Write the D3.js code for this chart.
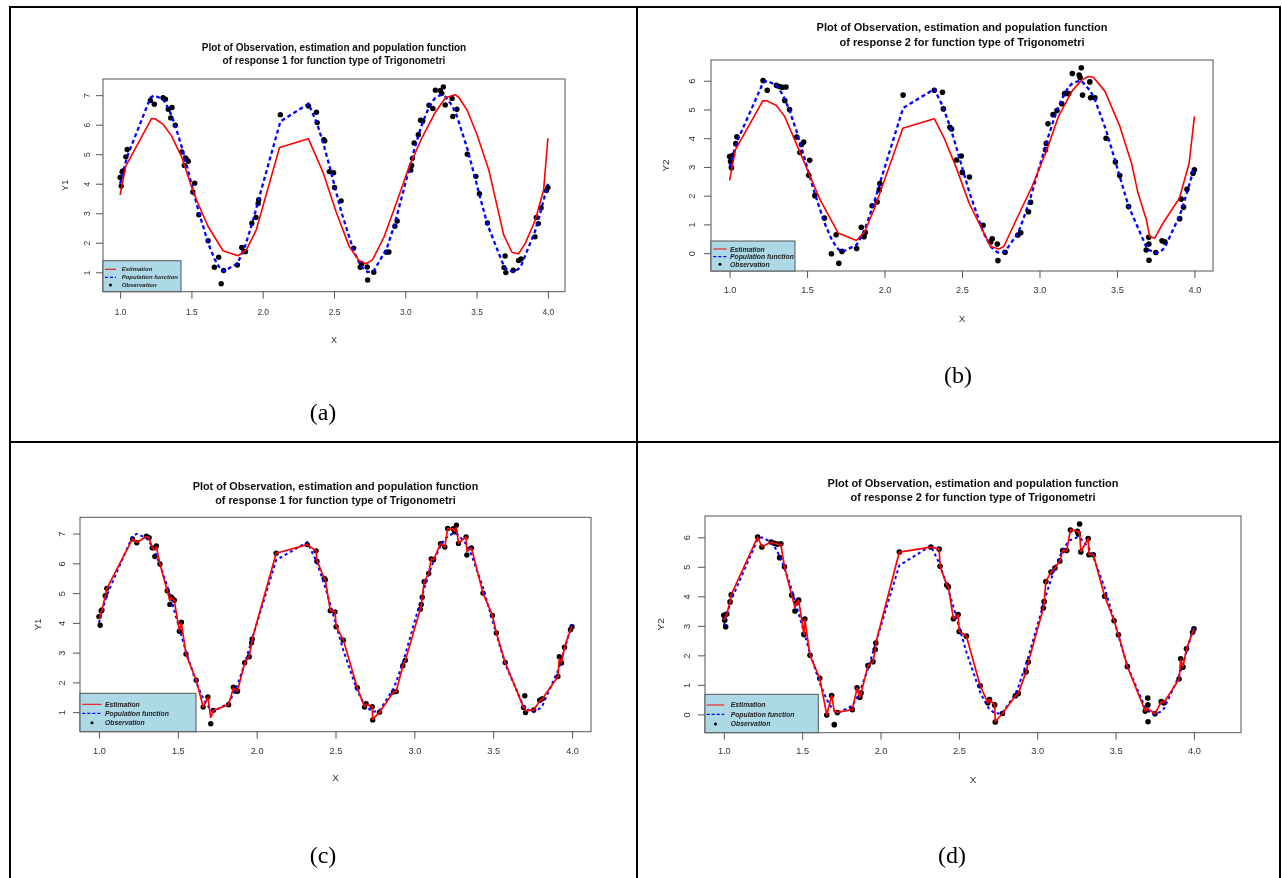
<!DOCTYPE html>
<html>
<head>
<meta charset="utf-8">
<script src="https://cdn.jsdelivr.net/npm/d3@7"></script>
<style>
  body { margin: 0; background: #fff; }
  svg { display: block; }
  text { font-family: "Liberation Sans", Arial, sans-serif; }
</style>
</head>
<body>
<svg id="fig" width="1282" height="878"></svg>
<script>
// ---------------- data ----------------
const xTicks = [1.0, 1.5, 2.0, 2.5, 3.0, 3.5, 4.0];
const yTicks1 = [1, 2, 3, 4, 5, 6, 7];
const yTicks2 = [0, 1, 2, 3, 4, 5, 6];

const titleLine1 = "Plot of Observation, estimation and population function";
const titleResp1 = "of response 1 for function type of Trigonometri";
const titleResp2 = "of response 2 for function type of Trigonometri";
const legendLabels = ["Estimation", "Population function", "Observation"];
const captions = ["(a)", "(b)", "(c)", "(d)"];

// response 1: observations, population function, fine estimate
const resp1X = [1.000,1.008,1.014,1.019,1.040,1.050,1.213,1.240,1.301,1.318,
  1.338,1.355,1.364,1.387,1.433,1.450,1.458,1.466,1.478,1.510,
  1.523,1.552,1.617,1.661,1.691,1.709,1.726,1.822,1.853,1.869,
  1.879,1.924,1.953,1.968,1.972,2.124,2.321,2.377,2.382,2.429,
  2.435,2.467,2.497,2.504,2.550,2.638,2.684,2.694,2.733,2.736,
  2.779,2.868,2.885,2.927,2.943,3.038,3.044,3.050,3.062,3.091,
  3.107,3.122,3.166,3.193,3.211,3.246,3.256,3.267,3.280,3.328,
  3.333,3.362,3.435,3.495,3.520,3.576,3.692,3.700,3.705,3.757,
  3.795,3.812,3.910,3.919,3.933,3.952,3.990,4.000];
const resp1Obs = [4.21,3.92,4.40,4.43,4.91,5.16,6.82,6.69,6.91,6.86,
  6.52,6.23,6.58,5.98,5.08,4.62,4.87,4.82,4.76,3.72,
  4.02,2.95,2.07,1.17,1.51,0.61,1.06,1.25,1.84,1.71,
  1.70,2.66,2.86,3.33,3.46,6.34,6.63,6.42,6.07,5.49,
  5.45,4.41,4.37,3.87,3.42,1.82,1.17,1.28,1.18,0.74,
  1.00,1.68,1.69,2.56,2.74,4.46,4.62,4.86,5.38,5.66,
  6.15,6.12,6.66,6.55,7.17,7.16,7.06,7.28,6.67,6.89,
  6.28,6.52,5.00,4.25,3.66,2.67,1.16,1.55,0.99,1.07,
  1.40,1.45,2.20,2.86,2.65,3.18,3.77,3.87];
const resp1Pop = [4.00,4.15,4.26,4.36,4.75,4.93,6.92,6.99,6.85,6.73,
  6.55,6.37,6.26,5.96,5.23,4.93,4.78,4.64,4.41,3.81,
  3.57,3.04,1.99,1.46,1.20,1.10,1.03,1.30,1.61,1.80,
  1.93,2.62,3.13,3.40,3.48,6.11,6.71,6.09,6.03,5.29,
  5.19,4.62,4.06,3.92,3.07,1.72,1.25,1.18,1.02,1.01,
  1.05,1.79,2.02,2.67,2.95,4.71,4.82,4.93,5.14,5.62,
  5.87,6.08,6.59,6.81,6.91,7.00,7.00,6.98,6.95,6.65,
  6.60,6.29,5.19,4.09,3.62,2.62,1.20,1.15,1.12,1.00,
  1.12,1.22,2.39,2.54,2.77,3.11,3.81,4.00];
const resp1EstFine = [4.12,4.22,4.38,4.43,4.90,5.15,6.82,6.70,6.90,6.85,
  6.52,6.45,6.56,5.98,5.08,4.75,4.85,4.82,4.74,3.74,
  3.98,2.95,2.07,1.18,1.50,0.82,1.06,1.25,1.82,1.72,
  1.72,2.65,2.88,3.32,3.46,6.34,6.63,6.42,6.10,5.49,
  5.45,4.42,4.37,3.88,3.42,1.82,1.18,1.27,1.18,0.76,
  1.00,1.68,1.70,2.56,2.74,4.47,4.62,4.86,5.38,5.66,
  6.15,6.12,6.66,6.55,7.17,7.16,7.08,7.20,6.68,6.89,
  6.40,6.52,5.00,4.25,3.66,2.67,1.16,1.12,1.05,1.07,
  1.38,1.45,2.20,2.80,2.66,3.18,3.77,3.87];
// response 1: smooth estimate
const resp1SmoothX = [1.000,1.040,1.221,1.245,1.300,1.360,1.431,1.489,1.536,1.617,
  1.722,1.827,1.885,1.955,2.118,2.321,2.421,2.514,2.607,2.677,
  2.724,2.770,2.852,2.945,3.027,3.120,3.213,3.283,3.353,3.376,
  3.434,3.504,3.586,3.690,3.749,3.795,3.842,3.912,3.970,4.000];
const resp1SmoothY = [3.62,4.60,6.21,6.20,6.02,5.62,4.92,4.07,3.45,2.55,
  1.73,1.56,1.76,2.44,5.23,5.52,4.41,3.06,1.87,1.39,
  1.29,1.42,2.21,3.45,4.58,5.59,6.44,6.92,7.01,6.92,
  6.49,5.65,4.46,2.27,1.67,1.63,1.99,2.77,3.79,5.54];

// response 2: observations, population function, fine estimate
const resp2X = [1.000,1.006,1.012,1.019,1.040,1.047,1.216,1.243,1.302,1.323,
  1.341,1.356,1.364,1.387,1.433,1.454,1.464,1.478,1.511,1.517,
  1.550,1.612,1.657,1.688,1.705,1.725,1.820,1.850,1.868,1.876,
  1.920,1.952,1.966,1.970,2.120,2.321,2.374,2.380,2.422,2.433,
  2.465,2.495,2.502,2.548,2.636,2.685,2.695,2.728,2.732,2.778,
  2.861,2.879,2.929,2.943,3.039,3.044,3.055,3.088,3.113,3.144,
  3.162,3.188,3.212,3.256,3.262,3.270,3.278,3.325,3.330,3.358,
  3.430,3.490,3.518,3.575,3.689,3.705,3.706,3.707,3.751,3.791,
  3.809,3.905,3.915,3.930,3.952,3.991,4.000];
const resp2Obs = [3.36,3.19,2.97,3.40,3.81,4.05,6.01,5.67,5.84,5.80,
  5.77,5.31,5.78,5.00,4.04,3.50,3.78,3.87,2.71,3.23,
  2.00,1.22,-0.02,0.64,-0.35,0.06,0.16,0.90,0.57,0.72,
  1.65,1.78,2.20,2.42,5.50,5.67,5.60,5.02,4.38,4.32,
  3.24,3.38,2.81,2.65,0.97,0.39,0.50,0.32,-0.26,0.03,
  0.63,0.71,1.44,1.77,3.60,3.82,4.50,4.82,4.96,5.20,
  5.55,5.55,6.25,6.20,6.11,6.45,5.50,5.96,5.41,5.41,
  4.00,3.17,2.70,1.62,0.11,0.55,0.32,-0.25,0.02,0.43,
  0.39,1.20,1.88,1.60,2.22,2.78,2.90];
const resp2Pop = [3.00,3.11,3.23,3.36,3.75,3.87,5.93,6.00,5.84,5.69,
  5.52,5.36,5.26,4.96,4.23,3.86,3.67,3.41,2.79,2.68,
  2.07,1.06,0.50,0.22,0.12,0.04,0.29,0.57,0.79,0.89,
  1.55,2.11,2.36,2.44,5.05,5.71,5.13,5.05,4.41,4.23,
  3.65,3.09,2.96,2.11,0.74,0.24,0.18,0.03,0.02,0.05,
  0.70,0.93,1.71,1.95,3.73,3.82,4.02,4.58,4.96,5.36,
  5.55,5.78,5.91,6.00,5.99,5.98,5.95,5.67,5.63,5.34,
  4.28,3.19,2.66,1.64,0.22,0.12,0.11,0.11,0.00,0.10,
  0.20,1.31,1.47,1.72,2.11,2.83,3.00];
const resp2EstFine = [3.20,3.25,3.30,3.40,3.81,4.05,6.01,5.68,5.84,5.80,
  5.77,5.76,5.76,5.00,4.04,3.62,3.78,3.86,2.72,3.22,
  2.00,1.22,-0.02,0.64,0.10,0.07,0.16,0.88,0.58,0.72,
  1.65,1.78,2.20,2.42,5.50,5.67,5.60,5.02,4.38,4.32,
  3.24,3.37,2.82,2.65,0.97,0.39,0.50,0.32,-0.25,0.03,
  0.63,0.71,1.44,1.77,3.60,3.82,4.50,4.82,4.96,5.20,
  5.55,5.55,6.25,6.22,6.15,6.20,5.52,5.96,5.42,5.41,
  4.00,3.17,2.70,1.62,0.11,0.20,0.20,0.18,0.02,0.42,
  0.40,1.20,1.85,1.62,2.22,2.78,2.90];
// response 2: smooth estimate
const resp2SmoothX = [1.000,1.038,1.214,1.242,1.302,1.355,1.434,1.520,1.584,1.701,
  1.819,1.872,1.936,2.118,2.321,2.385,2.460,2.546,2.631,2.685,
  2.738,2.770,2.845,2.952,3.048,3.123,3.209,3.273,3.316,3.348,
  3.423,3.519,3.594,3.636,3.690,3.711,3.744,3.797,3.903,3.966,
  4.000];
const resp2SmoothY = [2.53,3.60,5.30,5.30,5.14,4.76,3.77,2.67,1.86,0.70,
  0.44,0.75,1.57,4.35,4.68,4.00,3.02,1.74,0.81,0.23,
  0.14,0.23,1.10,2.32,3.60,4.76,5.63,6.03,6.15,6.12,
  5.63,4.41,3.13,2.09,1.16,0.58,0.52,1.04,1.91,3.13,
  4.76];

// ---------------- panel layout ----------------
const panels = [
  { id: "a", x: resp1X, obs: resp1Obs, pop: resp1Pop, estX: resp1SmoothX, estY: resp1SmoothY,
    yTicks: yTicks1, yLab: "Y1", sub: titleResp1,
    box: { l: 103, t: 79, r: 565, b: 291.7 }, xMax: 4.12,
    titleY: [47, 60], titleSize: 10, tickSize: 8.4, tickOff: 20, xLabOff: 48, yTickOff: 16, yLabOff: 38,
    r: 2.7, popW: 2.3, dash: "4,3", estW: 1.6,
    leg: { w: 78, h: 31, rows: [8.6, 16.6, 24.3], l1: 2, l2: 13, tx: 18.7, size: 6.0, weight: "bold" } },
  { id: "b", x: resp2X, obs: resp2Obs, pop: resp2Pop, estX: resp2SmoothX, estY: resp2SmoothY,
    yTicks: yTicks2, yLab: "Y2", sub: titleResp2,
    box: { l: 711, t: 60, r: 1213, b: 271 }, xMax: 4.12,
    titleY: [27, 42], titleSize: 11, tickSize: 9.2, tickOff: 19, xLabOff: 47, yTickOff: 19, yLabOff: 46,
    r: 2.8, popW: 2.3, dash: "4,3", estW: 1.6,
    leg: { w: 84, h: 30, rows: [8, 15.7, 23.3], l1: 2.3, l2: 15.7, tx: 19, size: 6.8, weight: "bold" } },
  { id: "c", x: resp1X, obs: resp1Obs, pop: resp1Pop, estX: resp1X, estY: resp1EstFine,
    yTicks: yTicks1, yLab: "Y1", sub: titleResp1,
    box: { l: 80, t: 517.3, r: 591, b: 731.7 }, xMax: 4.12,
    titleY: [485.5, 499.5], titleSize: 10.8, tickSize: 9.2, tickOff: 19, xLabOff: 46, yTickOff: 18, yLabOff: 43,
    r: 2.7, popW: 2.0, dash: "3,3", estW: 1.7,
    leg: { w: 116, h: 38.4, rows: [11, 20, 29.4], l1: 2.3, l2: 21.7, tx: 25, size: 6.8, weight: "bold" } },
  { id: "d", x: resp2X, obs: resp2Obs, pop: resp2Pop, estX: resp2X, estY: resp2EstFine,
    yTicks: yTicks2, yLab: "Y2", sub: titleResp2,
    box: { l: 705, t: 516, r: 1241, b: 732.7 }, xMax: 4.30,
    titleY: [483, 497], titleSize: 11, tickSize: 9.2, tickOff: 18, xLabOff: 47, yTickOff: 18, yLabOff: 45,
    r: 2.8, popW: 2.0, dash: "3,3", estW: 1.7,
    leg: { w: 113.3, h: 38.4, rows: [10.7, 20, 29.7], l1: 1.7, l2: 19.3, tx: 25.7, size: 6.8, weight: "bold" } }
];

const captionPos = [[323, 412], [958, 375], [323, 855], [952, 855]];

// ---------------- drawing ----------------
const svg = d3.select("#fig");
svg.append("rect").attr("width", 1282).attr("height", 878).attr("fill", "#fff");
const defs = svg.append("defs");
defs.append("filter").attr("id", "soft")
  .attr("x", "-5%").attr("y", "-5%").attr("width", "110%").attr("height", "110%")
  .append("feGaussianBlur").attr("stdDeviation", 0.35);

const RED = "#ff0000", BLUE = "#0000ff", INK = "#333", EDGE = "#555";

function drawPanel(p) {
  const { l, t, r, b } = p.box;
  const g = svg.append("g").attr("filter", "url(#soft)");

  const x = d3.scaleLinear().domain([0.88, p.xMax]).range([l, r]);
  const [lo, hi] = d3.extent(p.obs);
  const pad = (hi - lo) * 0.04;
  const y = d3.scaleLinear().domain([lo - pad, hi + pad]).range([b, t]);

  defs.append("clipPath").attr("id", "clip-" + p.id)
    .append("rect").attr("x", l).attr("y", t).attr("width", r - l).attr("height", b - t);
  const plot = g.append("g").attr("clip-path", `url(#clip-${p.id})`);

  // observations
  plot.append("g").selectAll("circle")
    .data(d3.zip(p.x, p.obs))
    .join("circle")
    .attr("cx", d => x(d[0])).attr("cy", d => y(d[1]))
    .attr("r", p.r).attr("fill", "#000");

  const line = d3.line().x(d => x(d[0])).y(d => y(d[1]));

  // population function (dashed blue)
  plot.append("path")
    .attr("d", line(d3.zip(p.x, p.pop)))
    .attr("fill", "none").attr("stroke", BLUE)
    .attr("stroke-width", p.popW).attr("stroke-dasharray", p.dash);

  // estimation (solid red)
  plot.append("path")
    .attr("d", line(d3.zip(p.estX, p.estY)))
    .attr("fill", "none").attr("stroke", RED)
    .attr("stroke-width", p.estW).attr("stroke-linejoin", "round");

  // plot box
  g.append("rect").attr("x", l).attr("y", t).attr("width", r - l).attr("height", b - t)
    .attr("fill", "none").attr("stroke", EDGE).attr("stroke-width", 1);

  // x axis
  const xa = g.append("g").attr("transform", `translate(0,${b})`)
    .call(d3.axisBottom(x).tickValues(xTicks).tickSize(7).tickSizeOuter(0).tickFormat(d3.format(".1f")));
  xa.select(".domain").remove();
  xa.selectAll(".tick line").attr("stroke", EDGE);
  xa.selectAll(".tick text")
    .attr("y", p.tickOff).attr("dy", "0.35em")
    .attr("fill", INK).style("font-size", p.tickSize + "px")
    .style("font-family", '"Liberation Sans", Arial, sans-serif');

  // y axis
  const ya = g.append("g").attr("transform", `translate(${l},0)`)
    .call(d3.axisLeft(y).tickValues(p.yTicks).tickSize(7).tickSizeOuter(0).tickFormat(d3.format("d")));
  ya.select(".domain").remove();
  ya.selectAll(".tick line").attr("stroke", EDGE);
  ya.selectAll(".tick text")
    .attr("x", null).attr("dy", null)
    .attr("text-anchor", "middle").attr("dominant-baseline", "central")
    .attr("transform", `translate(${-p.yTickOff},0) rotate(-90)`)
    .attr("fill", INK).style("font-size", p.tickSize + "px")
    .style("font-family", '"Liberation Sans", Arial, sans-serif');

  // axis titles
  const cx = (l + r) / 2, cy = (t + b) / 2;
  g.append("text").attr("x", cx).attr("y", b + p.xLabOff)
    .attr("text-anchor", "middle").attr("dominant-baseline", "central")
    .attr("fill", INK).style("font-size", (p.tickSize * 1.08) + "px").text("X");
  g.append("text")
    .attr("transform", `translate(${l - p.yLabOff},${cy}) rotate(-90)`)
    .attr("text-anchor", "middle").attr("dominant-baseline", "central")
    .attr("fill", INK).style("font-size", (p.tickSize * 1.08) + "px").text(p.yLab);

  // title
  [titleLine1, p.sub].forEach((s, i) => {
    g.append("text").attr("x", cx).attr("y", p.titleY[i])
      .attr("text-anchor", "middle").attr("dominant-baseline", "central")
      .attr("fill", "#111").style("font-weight", "bold")
      .style("font-size", p.titleSize + "px").text(s);
  });

  // legend, bottom-left inside the box
  const L = p.leg;
  const lg = g.append("g").attr("transform", `translate(${l},${b - L.h})`);
  lg.append("rect").attr("width", L.w).attr("height", L.h)
    .attr("fill", "#add8e6").attr("stroke", EDGE).attr("stroke-width", 1);
  legendLabels.forEach((lab, i) => {
    const ry = L.rows[i];
    if (i === 0) {
      lg.append("line").attr("x1", L.l1).attr("x2", L.l2).attr("y1", ry).attr("y2", ry)
        .attr("stroke", RED).attr("stroke-width", 1);
    } else if (i === 1) {
      lg.append("line").attr("x1", L.l1).attr("x2", L.l2).attr("y1", ry).attr("y2", ry)
        .attr("stroke", BLUE).attr("stroke-width", 1.2).attr("stroke-dasharray", "3,2");
    } else {
      lg.append("circle").attr("cx", (L.l1 + L.l2) / 2).attr("cy", ry).attr("r", 1.5).attr("fill", "#000");
    }
    lg.append("text").attr("x", L.tx).attr("y", ry)
      .attr("dominant-baseline", "central")
      .attr("fill", "#222").style("font-style", "italic").style("font-weight", L.weight)
      .style("font-size", L.size + "px").text(lab);
  });
}

panels.forEach(drawPanel);

// table frame around the four panels
const frame = svg.append("g").attr("stroke", "#000").attr("stroke-width", 2).attr("fill", "none");
frame.append("line").attr("x1", 10).attr("x2", 1281).attr("y1", 7).attr("y2", 7);
frame.append("line").attr("x1", 10).attr("x2", 10).attr("y1", 6).attr("y2", 878);
frame.append("line").attr("x1", 637).attr("x2", 637).attr("y1", 6).attr("y2", 878);
frame.append("line").attr("x1", 1280).attr("x2", 1280).attr("y1", 6).attr("y2", 878);
frame.append("line").attr("x1", 10).attr("x2", 1281).attr("y1", 442).attr("y2", 442);

// panel captions
captions.forEach((c, i) => {
  svg.append("text").attr("x", captionPos[i][0]).attr("y", captionPos[i][1])
    .attr("text-anchor", "middle").attr("dominant-baseline", "central")
    .style("font-family", '"Liberation Serif", "Times New Roman", serif')
    .style("font-size", "24px").attr("fill", "#000").text(c);
});
</script>
</body>
</html>
